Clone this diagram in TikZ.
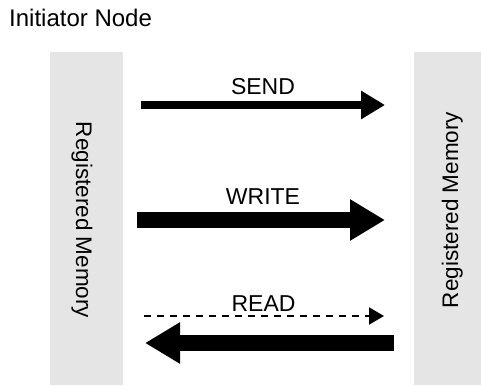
\documentclass[tikz,border=0pt]{standalone}
\usepackage{fontspec}
\setmainfont{Liberation Sans}
\usetikzlibrary{arrows.meta}
\definecolor{memgray}{RGB}{229,229,229}
\tikzset{
  membox/.style={fill=memgray, draw=none, inner sep=0pt, outer sep=0pt},
  lbl/.style={font=\fontsize{23}{27}\selectfont, inner sep=0pt, anchor=base},
  sendarrow/.style={line width=8pt, -{Triangle[length=24pt,width=27pt]}},
  bigarrow/.style={line width=16pt, -{Triangle[length=35pt,width=39pt]}},
  readarrow/.style={line width=2pt, dash pattern=on 7pt off 6pt, -{Triangle[length=15pt,width=17pt]}}
}
\begin{document}
\begin{tikzpicture}[x=1pt,y=-1pt]
\useasboundingbox (0,0) rectangle (481,385);
% memory boxes
\node[membox, minimum width=73pt, minimum height=333pt] (lmem) at (86.5,218.5) {};
\node[membox, minimum width=67pt, minimum height=333pt] (rmem) at (447.5,218.5) {};
\node[lbl, rotate=-90, font=\fontsize{22.5}{27}\selectfont] (ltext) at (76,220) {Registered Memory};
\node[lbl, rotate=90, font=\fontsize{22.5}{27}\selectfont] (rtext) at (458,210) {Registered Memory};
% title
\node[lbl, anchor=base west, font=\fontsize{24}{28}\selectfont] (title) at (9,27) {Initiator Node};
% arrow endpoints
\coordinate (s1) at (141,105);
\coordinate (s2) at (385,105);
\coordinate (w1) at (137,220);
\coordinate (w2) at (385,220);
\coordinate (r1) at (144,316);
\coordinate (r2) at (384,316);
\coordinate (b1) at (394,343);
\coordinate (b2) at (145,343);
\draw[sendarrow] (s1) -- (s2);
\draw[bigarrow] (w1) -- (w2);
\draw[readarrow] (r1) -- (r2);
\draw[bigarrow] (b1) -- (b2);
% labels
\node[lbl] (sendl) at (263,95) {SEND};
\node[lbl] (writel) at (263,204) {WRITE};
\node[lbl] (readl) at (263.5,311) {READ};
\end{tikzpicture}
\end{document}
